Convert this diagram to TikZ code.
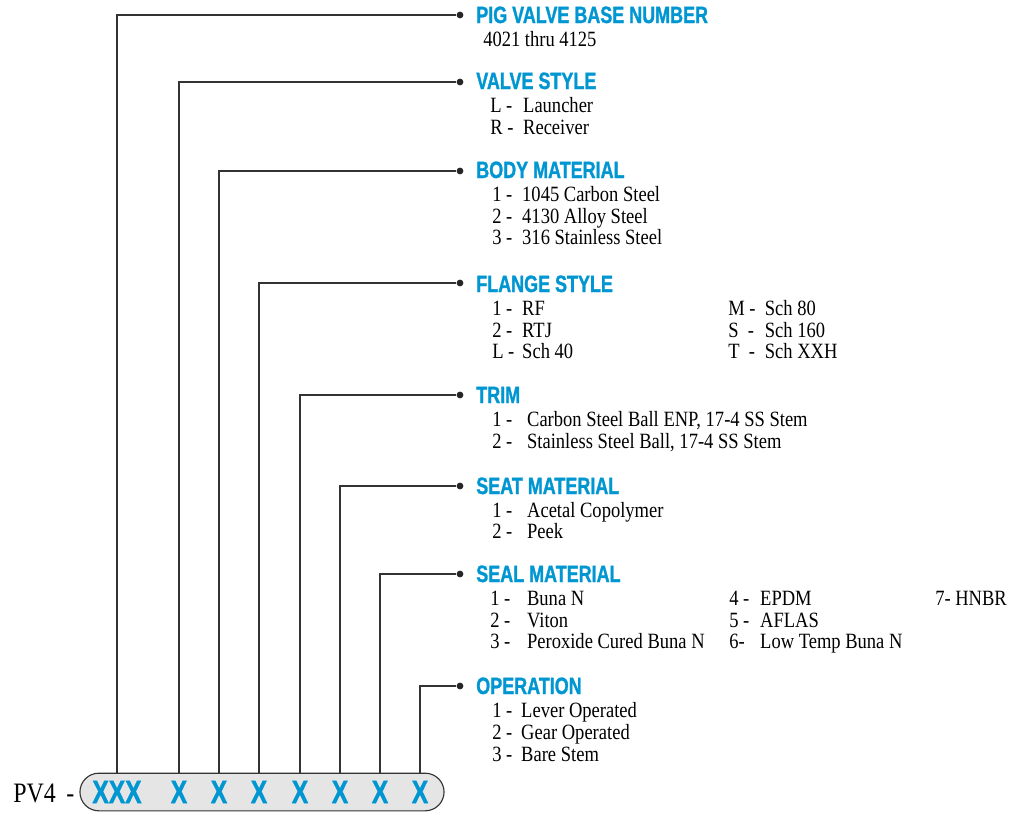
\documentclass[tikz,border=0pt]{standalone}
\usepackage{fontspec}
\setmainfont{Liberation Serif}[FakeStretch=0.85]
\newfontfamily\titolofont{Liberation Sans}[FakeStretch=0.76, FakeBold=1.2]
\definecolor{azzurro}{RGB}{0,150,210}
\newcommand{\cod}[2][21.3pt]{\makebox[#1][l]{#2}}

\begin{document}
\begin{tikzpicture}[
  x=0.025cm, y=-0.025cm,
  titolo/.style={font=\titolofont\bfseries\fontsize{16.8}{18}\selectfont, text=azzurro,
                 anchor=base west, inner sep=0pt},
  voce/.style={font=\fontsize{15.5}{17}\selectfont, anchor=base west, inner sep=0pt},
  punto/.style={circle, fill=black!85, inner sep=0pt, minimum size=0.17cm},
  filo/.style={draw=black!80, line width=0.8pt},
  pillola/.style={draw=black!80, fill=black!10, line width=0.8pt, rounded corners=0.47cm,
                  minimum width=9.1cm, minimum height=0.94cm},
  lettera/.style={font=\titolofont\bfseries\fontsize{23}{24}\selectfont, text=azzurro, inner sep=0pt}
]
\useasboundingbox (0,0) rectangle (1014,812);

% codice
\node[voce, font=\fontsize{20}{22}\selectfont] (PV) at (13,802) {PV4};
\node[voce, font=\fontsize{20}{22}\selectfont] (TR) at (66,802) {-};
\node[pillola] (P) at (262,792) {};
\node[lettera] (X1) at (117,792) {XXX};
\node[lettera] (X2) at (179,792) {X};
\node[lettera] (X3) at (219,792) {X};
\node[lettera] (X4) at (259,792) {X};
\node[lettera] (X5) at (300,792) {X};
\node[lettera] (X6) at (340,792) {X};
\node[lettera] (X7) at (380,792) {X};
\node[lettera] (X8) at (420,792) {X};

% voci
\node[punto] (D1) at (460,15) {};
\node[titolo] (PB) at (476,23) {PIG VALVE BASE NUMBER};
\node[voce] (PB1) at (483,46) {4021 thru 4125};

\node[punto] (D2) at (460,82) {};
\node[titolo] (VS) at (476,89) {VALVE STYLE};
\node[voce] (VS1) at (490,112) {\cod[23.4pt]{L -}Launcher};
\node[voce] (VS2) at (490,134) {\cod[23.4pt]{R -}Receiver};

\node[punto] (D3) at (460,171) {};
\node[titolo] (BM) at (476,178) {BODY MATERIAL};
\node[voce] (BM1) at (492,201) {\cod{1 -}1045 Carbon Steel};
\node[voce] (BM2) at (492,223) {\cod{2 -}4130 Alloy Steel};
\node[voce] (BM3) at (492,244) {\cod{3 -}316 Stainless Steel};

\node[punto] (D4) at (460,283) {};
\node[titolo] (FS) at (476,292) {FLANGE STYLE};
\node[voce] (FS1) at (492,315) {\cod{1 -}RF};
\node[voce] (FS2) at (492,337) {\cod{2 -}RTJ};
\node[voce] (FS3) at (492,358) {\cod{L -}Sch 40};
\node[voce] (FS4) at (728,315) {\cod[26pt]{M -}Sch 80};
\node[voce] (FS5) at (728,337) {\cod[26pt]{S\ \ -}Sch 160};
\node[voce] (FS6) at (728,358) {\cod[26pt]{T\ \ -}Sch XXH};

\node[punto] (D5) at (460,395) {};
\node[titolo] (TM) at (476,403) {TRIM};
\node[voce] (TM1) at (492,426) {\cod[24.8pt]{1 -}Carbon Steel Ball ENP, 17-4 SS Stem};
\node[voce] (TM2) at (492,448) {\cod[24.8pt]{2 -}Stainless Steel Ball, 17-4 SS Stem};

\node[punto] (D6) at (460,486) {};
\node[titolo] (SM) at (476,494) {SEAT MATERIAL};
\node[voce] (SM1) at (492,517) {\cod[24.8pt]{1 -}Acetal Copolymer};
\node[voce] (SM2) at (492,538) {\cod[24.8pt]{2 -}Peek};

\node[punto] (D7) at (460,574) {};
\node[titolo] (SL) at (476,582) {SEAL MATERIAL};
\node[voce] (SL1) at (490,605) {\cod[26.2pt]{1 -}Buna N};
\node[voce] (SL2) at (490,627) {\cod[26.2pt]{2 -}Viton};
\node[voce] (SL3) at (490,648) {\cod[26.2pt]{3 -}Peroxide Cured Buna N};
\node[voce] (SL4) at (729,605) {\cod[22pt]{4 -}EPDM};
\node[voce] (SL5) at (729,627) {\cod[22pt]{5 -}AFLAS};
\node[voce] (SL6) at (729,648) {\cod[22pt]{6-}Low Temp Buna N};
\node[voce] (SL7) at (935,605) {7- HNBR};

\node[punto] (D8) at (460,686) {};
\node[titolo] (OP) at (476,694) {OPERATION};
\node[voce] (OP1) at (492,717) {\cod[20.6pt]{1 -}Lever Operated};
\node[voce] (OP2) at (492,739) {\cod[20.6pt]{2 -}Gear Operated};
\node[voce] (OP3) at (492,761) {\cod[20.6pt]{3 -}Bare Stem};

% collegamenti
\draw[filo] (X1 |- P.north) |- (D1);
\draw[filo] (X2 |- P.north) |- (D2);
\draw[filo] (X3 |- P.north) |- (D3);
\draw[filo] (X4 |- P.north) |- (D4);
\draw[filo] (X5 |- P.north) |- (D5);
\draw[filo] (X6 |- P.north) |- (D6);
\draw[filo] (X7 |- P.north) |- (D7);
\draw[filo] (X8 |- P.north) |- (D8);

\end{tikzpicture}
\end{document}
